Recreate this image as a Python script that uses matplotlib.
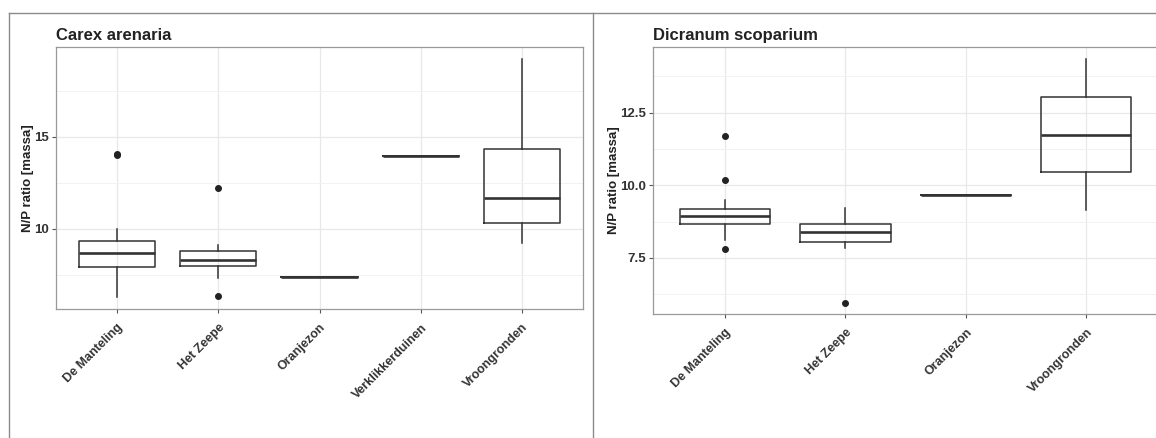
import matplotlib.pyplot as plt
from matplotlib.lines import Line2D
from matplotlib.ticker import MultipleLocator

plt.rcParams['font.family'] = ['Liberation Sans', 'DejaVu Sans']

# Carex arenaria (left panel)
carex_sites = ["De Manteling", "Het Zeepe", "Oranjezon", "Verklikkerduinen", "Vroongronden"]
carex_q1 = [7.92, 8.01, 7.37, 13.97, 10.34]
carex_med = [8.71, 8.33, 7.37, 13.97, 11.70]
carex_q3 = [9.33, 8.79, 7.37, 13.97, 14.33]
carex_lo = [6.32, 7.35, 7.37, 13.97, 9.22]
carex_hi = [10.02, 9.13, 7.37, 13.97, 19.22]
carex_out = [[14.02, 14.10], [12.21, 6.34], [], [], []]

# Dicranum scoparium (right panel)
dicr_sites = ["De Manteling", "Het Zeepe", "Oranjezon", "Vroongronden"]
dicr_q1 = [8.66, 8.04, 9.66, 10.45]
dicr_med = [8.94, 8.38, 9.66, 11.74]
dicr_q3 = [9.19, 8.66, 9.66, 13.05]
dicr_lo = [8.11, 7.83, 9.66, 9.15]
dicr_hi = [9.49, 9.22, 9.66, 14.34]
dicr_out = [[11.70, 10.18, 7.80], [5.94], [], []]

W, H = 1156, 438
fig = plt.figure(figsize=(W / 100, H / 100), dpi=100)


def px_axes(x0, y0, x1, y1):
    # pixel box (top-left origin) -> figure fraction axes
    return fig.add_axes([x0 / W, 1 - y1 / H, (x1 - x0) / W, (y1 - y0) / H])


def panel(ax, title, sites, q1, med, q3, lo, hi, out, ylim, major, minor, fmt):
    stats = []
    for i in range(len(sites)):
        stats.append(dict(med=med[i], q1=q1[i], q3=q3[i], whislo=lo[i],
                          whishi=hi[i], fliers=out[i], label=sites[i]))
    pos = list(range(1, len(sites) + 1))
    ax.bxp(stats, positions=pos, widths=0.75, showcaps=False, patch_artist=False,
           boxprops=dict(color="#333333", linewidth=1.1),
           whiskerprops=dict(color="#333333", linewidth=1.1),
           medianprops=dict(color="#333333", linewidth=1.9),
           flierprops=dict(marker="o", markersize=4, markerfacecolor="#222222",
                           markeredgecolor="#222222"))
    ax.set_xlim(0.4, len(sites) + 0.6)
    ax.set_ylim(*ylim)
    ax.yaxis.set_major_locator(MultipleLocator(major))
    ax.yaxis.set_minor_locator(MultipleLocator(minor))
    ax.yaxis.set_major_formatter(fmt)
    ax.set_xticks(pos)
    ax.set_xticklabels(sites, rotation=45, ha="right", va="top",
                       rotation_mode="anchor", fontsize=9, fontweight="bold",
                       color="#333333")
    ax.tick_params(axis="x", length=3, width=0.8, color="#555555", pad=6)
    ax.tick_params(axis="y", which="major", length=3, width=0.8, color="#555555",
                   labelsize=9.5, labelcolor="#333333", pad=2)
    ax.tick_params(axis="y", which="minor", length=0)
    for lab in ax.get_yticklabels():
        lab.set_fontweight("bold")
    ax.grid(True, which="major", color="#e8e8e8", linewidth=0.9)
    ax.grid(True, which="minor", axis="y", color="#f2f2f2", linewidth=0.7)
    ax.set_axisbelow(True)
    for s in ax.spines.values():
        s.set_color("#999999")
        s.set_linewidth(0.9)
    ax.set_ylabel("N/P ratio [massa]", fontsize=9.5, fontweight="bold",
                  color="#222222", labelpad=0)
    ax.set_title(title, loc="left", fontsize=12, fontweight="bold",
                 color="#222222", pad=5)


ax1 = px_axes(56, 47, 583, 309)
panel(ax1, "Carex arenaria", carex_sites, carex_q1, carex_med, carex_q3,
      carex_lo, carex_hi, carex_out, (5.65, 19.89), 5, 2.5, "{x:g}")

ax2 = px_axes(652.7, 47, 1158.6, 314)
panel(ax2, "Dicranum scoparium", dicr_sites, dicr_q1, dicr_med, dicr_q3,
      dicr_lo, dicr_hi, dicr_out, (5.57, 14.76), 2.5, 1.25, "{x:.1f}")

# outer frame lines around the two panels
frame = "#8a8a8a"
fig.add_artist(Line2D([9 / W, 1], [1 - 13 / H, 1 - 13 / H], color=frame, lw=1.0))
fig.add_artist(Line2D([9 / W, 9 / W], [0, 1 - 13 / H], color=frame, lw=1.0))
fig.add_artist(Line2D([593 / W, 593 / W], [0, 1 - 13 / H], color=frame, lw=1.0))

fig.savefig("out.png", dpi=100)
